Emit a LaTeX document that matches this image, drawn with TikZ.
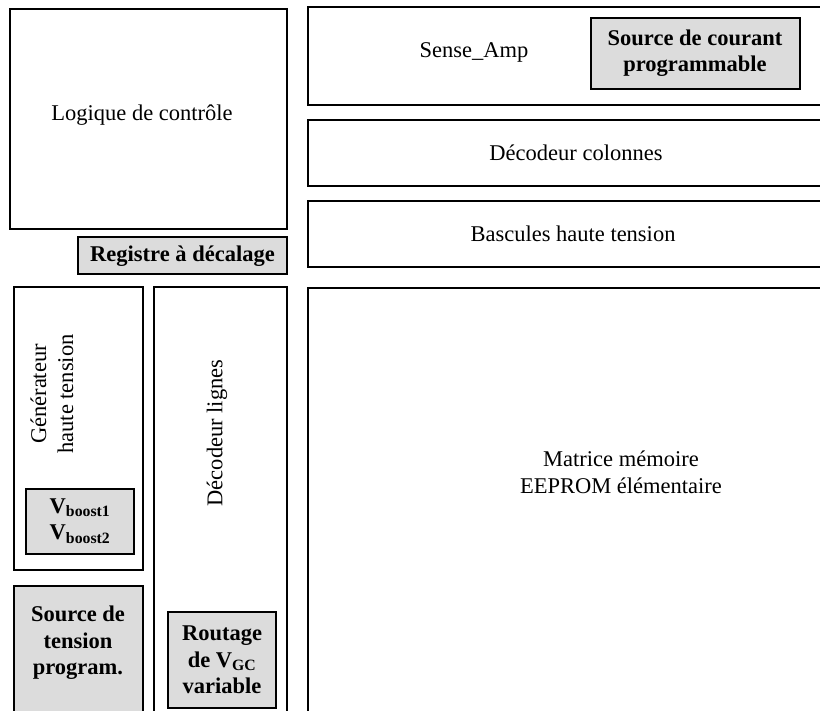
\documentclass[tikz,border=0pt]{standalone}
\usepackage{fontspec}
\setmainfont{Liberation Serif}
\usepackage{xcolor}
\definecolor{blocgris}{HTML}{DCDCDC}

\tikzset{
  bloc/.style = {draw, line width=2.6pt},
  souscirc/.style = {draw, fill=blocgris, line width=1.8pt},
  txt/.style = {align=center, inner sep=0pt, font=\fontsize{22.5}{27}\selectfont},
  txtgras/.style = {txt, font=\fontsize{22.5}{26.5}\selectfont\bfseries}
}

\begin{document}
\begin{tikzpicture}[x=1pt, y=-1pt]
\clip (0,0) rectangle (820,711);

% partie gauche
\draw[bloc] (10,9) rectangle (287,229);
\node[txt] (logique) at (142,115) {Logique de contr\^ole};
\draw[souscirc] (78,237) rectangle (287,274);
\node[txtgras] (registre) at (182.5,256) {Registre \`a d\'ecalage};

\draw[bloc] (14,287) rectangle (143,570);
\node[txt, rotate=90] (generateur) at (52,394) {G\'en\'erateur\\haute tension};
\draw[souscirc] (26,489) rectangle (134,554);
\node[txtgras] (vboost) at (80,521) {V\textsubscript{boost1}\\V\textsubscript{boost2}};

\draw[bloc, fill=blocgris] (14,586) rectangle (143,730);
\node[txtgras] (srctension) at (78,643) {Source de\\tension\\program.};

\draw[bloc] (154,287) rectangle (287,730);
\node[txt, rotate=90] (declignes) at (217,433) {D\'ecodeur lignes};
\draw[souscirc] (168,612) rectangle (276,708);
\node[txtgras] (routage) at (222,660) {Routage\\de V\textsubscript{GC}\\variable};

% partie droite
\draw[bloc] (308,7) rectangle (840,105);
\node[txt] (sense) at (474,52) {Sense\_Amp};
\draw[souscirc] (591,18) rectangle (800,89);
\node[txtgras] (srccourant) at (695,53) {Source de courant\\programmable};

\draw[bloc] (308,120) rectangle (840,186);
\node[txt] (deccolonnes) at (576,153) {D\'ecodeur colonnes};

\draw[bloc] (308,201) rectangle (840,267);
\node[txt] (bascules) at (573,234) {Bascules haute tension};

\draw[bloc] (308,288) rectangle (840,730);
\node[txt] (matrice) at (621,472) {Matrice m\'emoire\\EEPROM \'el\'ementaire};
\end{tikzpicture}
\end{document}
